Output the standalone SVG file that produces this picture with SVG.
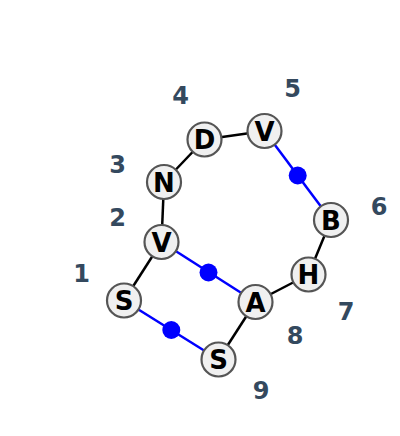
<svg xmlns="http://www.w3.org/2000/svg" width="400" height="436" viewBox="0 0 400 436">
<style>
.edge{stroke:#000;stroke-width:2.5;fill:none}
.blue{stroke:#0000ff;stroke-width:2.5;fill:none}
.dot{fill:#0000ff}
.node circle{fill:#f0f0f0;stroke:#555;stroke-width:2.2}
.node text{font-family:"DejaVu Sans",sans-serif;font-weight:bold;font-size:26px;fill:#000;text-anchor:middle}
.lbl{font-family:"DejaVu Sans",sans-serif;font-weight:bold;font-size:24px;fill:#34495e;text-anchor:middle}
</style>
<rect width="400" height="436" fill="#fff"/>
<g id="connectors">
<line class="edge" x1="124" y1="300.5" x2="161.5" y2="242"/>
<line class="edge" x1="161.5" y1="242" x2="164" y2="182"/>
<line class="edge" x1="164" y1="182" x2="204.5" y2="139.5"/>
<line class="edge" x1="204.5" y1="139.5" x2="264.5" y2="131"/>
<line class="blue" x1="264.5" y1="131" x2="331" y2="220"/>
<circle class="dot" cx="297.7" cy="175.5" r="9"/>
<line class="edge" x1="331" y1="220" x2="308.5" y2="274.5"/>
<line class="edge" x1="308.5" y1="274.5" x2="255.5" y2="302"/>
<line class="edge" x1="255.5" y1="302" x2="218.5" y2="359.5"/>
<line class="blue" x1="161.5" y1="242" x2="255.5" y2="302"/>
<circle class="dot" cx="208.5" cy="272.5" r="9"/>
<line class="blue" x1="124" y1="300.5" x2="218.5" y2="359.5"/>
<circle class="dot" cx="171.3" cy="330" r="9"/>
</g>
<g id="n1" class="node"><circle cx="124" cy="300.5" r="17"/><text x="124" y="310">S</text></g>
<g id="n2" class="node"><circle cx="161.5" cy="242" r="17"/><text x="161.5" y="251.5">V</text></g>
<g id="n3" class="node"><circle cx="164" cy="182" r="17"/><text x="164" y="191.5">N</text></g>
<g id="n4" class="node"><circle cx="204.5" cy="139.5" r="17"/><text x="204.5" y="149">D</text></g>
<g id="n5" class="node"><circle cx="264.5" cy="131" r="17"/><text x="264.5" y="140.5">V</text></g>
<g id="n6" class="node"><circle cx="331" cy="220" r="17"/><text x="331" y="229.5">B</text></g>
<g id="n7" class="node"><circle cx="308.5" cy="274.5" r="17"/><text x="308.5" y="284">H</text></g>
<g id="n8" class="node"><circle cx="255.5" cy="302" r="17"/><text x="255.5" y="311.5">A</text></g>
<g id="n9" class="node"><circle cx="218.5" cy="359.5" r="17"/><text x="218.5" y="369">S</text></g>
<g id="labels">
<text class="lbl" x="81.5" y="281.5">1</text>
<text class="lbl" x="117.5" y="225.5">2</text>
<text class="lbl" x="117.5" y="173">3</text>
<text class="lbl" x="180.5" y="104">4</text>
<text class="lbl" x="292.5" y="97">5</text>
<text class="lbl" x="379" y="215">6</text>
<text class="lbl" x="346" y="320">7</text>
<text class="lbl" x="295" y="344">8</text>
<text class="lbl" x="261" y="399">9</text>
</g>
</svg>
